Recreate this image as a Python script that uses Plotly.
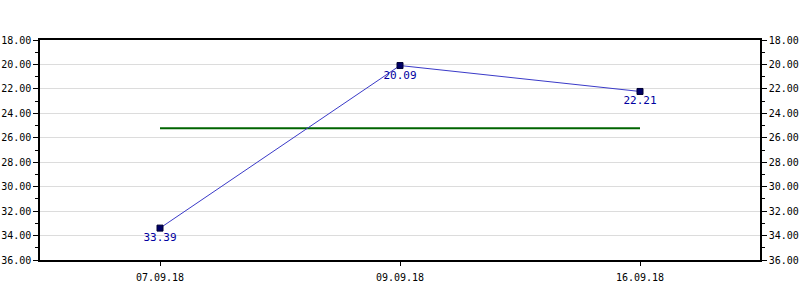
import plotly.graph_objects as go

dates = ["07.09.18", "09.09.18", "16.09.18"]
values = [33.39, 20.09, 22.21]
value_labels = ["33.39", "20.09", "22.21"]
mean_value = 25.23

FONT = "DejaVu Sans Mono"
FS = 10

fig = go.Figure()

fig.add_trace(go.Scatter(
    x=dates, y=[mean_value] * len(dates), mode="lines",
    line=dict(color="#006400", width=2), hoverinfo="skip", showlegend=False,
))

fig.add_trace(go.Scatter(
    x=dates, y=values, mode="lines+markers+text",
    line=dict(color="#3a3ac8", width=1),
    marker=dict(symbol="square", size=6, color="#000066", line=dict(color="#000033", width=1)),
    text=value_labels, textposition="bottom center",
    textfont=dict(family=FONT, size=11, color="#0000a0"),
    showlegend=False,
))

# invisible trace for the right axis
fig.add_trace(go.Scatter(
    x=dates, y=values, yaxis="y2", mode="markers",
    marker=dict(opacity=0), hoverinfo="skip", showlegend=False,
))

yax_common = dict(
    range=[36, 18], tickvals=[18, 20, 22, 24, 26, 28, 30, 32, 34, 36],
    tickformat=".2f", ticks="outside", ticklen=5, tickwidth=1, tickcolor="black",
    minor=dict(dtick=1, tick0=18, ticks="outside", ticklen=3, tickcolor="black", showgrid=False),
    showline=True, linecolor="black", linewidth=1.5,
    tickfont=dict(family=FONT, size=FS, color="black"),
    zeroline=False, fixedrange=True, automargin=False,
    ticklabelstandoff=0,
)

fig.update_layout(
    width=800, height=300,
    margin=dict(l=40, r=40, t=40, b=40),
    paper_bgcolor="white", plot_bgcolor="white",
    xaxis=dict(
        type="category", range=[-0.5, 2.5],
        ticks="outside", ticklen=4, tickcolor="black",
        showline=True, linecolor="black", linewidth=1.5, mirror=True,
        showgrid=False, tickfont=dict(family=FONT, size=FS, color="black"),
        automargin=False, ticklabelstandoff=3,
    ),
    yaxis=dict(**yax_common, side="left", showgrid=True, gridcolor="#dcdcdc", gridwidth=1),
    yaxis2=dict(**yax_common, side="right", overlaying="y", showgrid=False),
)

fig.write_html("out.html")
